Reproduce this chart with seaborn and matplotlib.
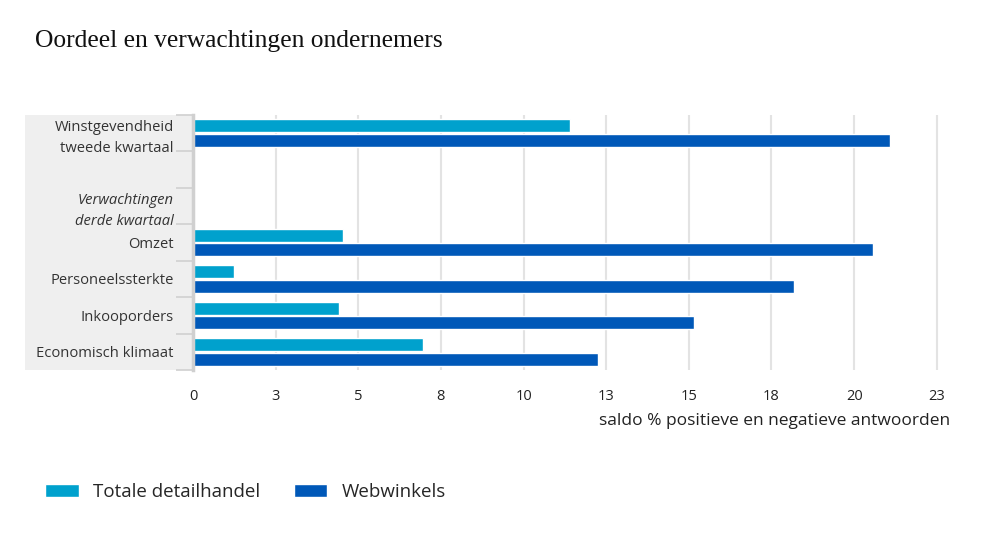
import pandas as pd
import numpy as np
import matplotlib.pyplot as plt
import seaborn as sns
from matplotlib.patches import Rectangle

# Data
categories = ["Winstgevendheid\ntweede kwartaal", "Omzet", "Personeelssterkte",
              "Inkooporders", "Economisch klimaat"]
totale_detailhandel = [11.4, 4.55, 1.25, 4.42, 6.95]
webwinkels = [21.08, 20.58, 18.19, 15.17, 12.24]
series = ["Totale detailhandel", "Webwinkels"]

# row order on the axis, including the spacer row and the italic heading row
row_order = ["Winstgevendheid\ntweede kwartaal", "_leeg", "Verwachtingen\nderde kwartaal",
             "Omzet", "Personeelssterkte", "Inkooporders", "Economisch klimaat"]
row_labels = ["Winstgevendheid\ntweede kwartaal", "", "Verwachtingen\nderde kwartaal",
              "Omzet", "Personeelssterkte", "Inkooporders", "Economisch klimaat"]

tick_values = [0, 2.5, 5, 7.5, 10, 12.5, 15, 17.5, 20, 22.5]
tick_labels = ["0", "3", "5", "8", "10", "13", "15", "18", "20", "23"]

colors = {"Totale detailhandel": "#00A1CD", "Webwinkels": "#0058B8"}

df = pd.DataFrame({
    "categorie": categories * 2,
    "reeks": [series[0]] * len(categories) + [series[1]] * len(categories),
    "waarde": totale_detailhandel + webwinkels,
})

sns.set_style("white")
plt.rcParams["font.family"] = ["Open Sans", "DejaVu Sans"]

fig = plt.figure(figsize=(10, 5.5), dpi=100)

# gray label panel behind the category names
fig.patches.append(Rectangle((25 / 1000, 1 - 370 / 550), 168 / 1000, 255 / 550,
                             transform=fig.transFigure, facecolor="#efefef",
                             edgecolor="none", zorder=-5))

ax = fig.add_axes([0.193, 1 - 370 / 550, 0.757, 255 / 550])
ax.patch.set_alpha(0)

sns.barplot(data=df, y="categorie", x="waarde", hue="reeks", order=row_order,
            hue_order=series, palette=colors, orient="h", width=0.8, gap=0.1,
            ax=ax, legend=False, saturation=1)

ax.set_xlim(0, 22.9)
ax.set_ylim(6.5, -0.5)
ax.set_xticks(tick_values)
ax.set_xticklabels(tick_labels, fontsize=10.5, color="#222222")
ax.xaxis.grid(True, color="#e3e3e3", linewidth=1.5)
ax.set_axisbelow(True)
ax.tick_params(axis="x", length=5, width=1.5, color="#e3e3e3", pad=9)

ax.set_yticks(range(len(row_order)))
ax.set_yticklabels(row_labels, fontsize=10.6, color="#333333", linespacing=1.55)
ax.get_yticklabels()[2].set_style("italic")
ax.tick_params(axis="y", length=0, pad=14)
ax.set_yticks(np.arange(-0.5, 7, 1), minor=True)
ax.tick_params(axis="y", which="minor", left=True, length=12, width=1.2,
               color="#d0d0d0")

for side in ["top", "right", "bottom"]:
    ax.spines[side].set_visible(False)
ax.spines["left"].set_color("#d0d0d0")
ax.spines["left"].set_linewidth(2.5)

ax.set_ylabel("")
ax.set_xlabel("saldo % positieve en negatieve antwoorden", fontsize=12.5,
              color="#222222")
ax.xaxis.set_label_coords(1.0, -0.17)
ax.xaxis.label.set_horizontalalignment("right")

fig.text(0.035, 0.925, "Oordeel en verwachtingen ondernemers", fontsize=18.4,
         family=["Liberation Serif", "DejaVu Serif"], color="#111111", va="center")

# legend at the bottom left
handles = [Rectangle((0, 0), 1, 1, facecolor=colors[s]) for s in series]
fig.legend(handles, series, loc="center left", bbox_to_anchor=(0.045, 1 - 492 / 550),
           ncol=2, frameon=False, fontsize=13.5, handlelength=1.8, handleheight=0.75,
           columnspacing=1.8, handletextpad=0.75, borderpad=0, borderaxespad=0)

fig.savefig("out.png", dpi=100)
